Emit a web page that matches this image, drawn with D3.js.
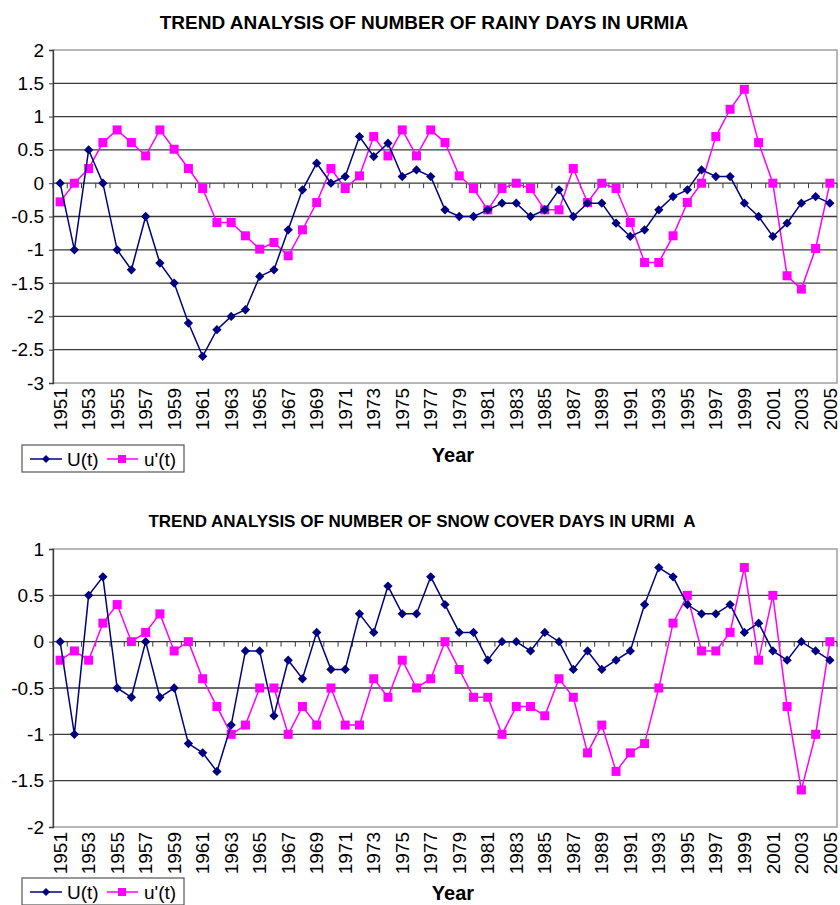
<!DOCTYPE html>
<html>
<head>
<meta charset="utf-8">
<title>Trend analysis - Urmia</title>
<style>
  body { margin: 0; background: #fff; }
  text { font-family: "Liberation Sans", Arial, sans-serif; white-space: pre; }
</style>
</head>
<body>
<main></main>
<script src="https://cdn.jsdelivr.net/npm/d3@7"></script>
<script>
// years on the category axis
var years = d3.range(1951, 2006);
// only every other year gets a label
var yearLabels = years.filter(function (d) { return (d - 1951) % 2 === 0; });

// rainy days: U(t) and u'(t)
var rainU = [0, -1, 0.5, 0, -1, -1.3, -0.5, -1.2, -1.5, -2.1,
  -2.6, -2.2, -2, -1.9, -1.4, -1.3, -0.7, -0.1, 0.3, 0,
  0.1, 0.7, 0.4, 0.6, 0.1, 0.2, 0.1, -0.4, -0.5, -0.5,
  -0.4, -0.3, -0.3, -0.5, -0.4, -0.1, -0.5, -0.3, -0.3, -0.6,
  -0.8, -0.7, -0.4, -0.2, -0.1, 0.2, 0.1, 0.1, -0.3, -0.5,
  -0.8, -0.6, -0.3, -0.2, -0.3];
var rainUp = [-0.28, 0, 0.22, 0.61, 0.8, 0.61, 0.41, 0.8, 0.51, 0.22,
  -0.08, -0.59, -0.59, -0.79, -0.99, -0.89, -1.09, -0.7, -0.29, 0.22,
  -0.08, 0.11, 0.7, 0.41, 0.8, 0.41, 0.8, 0.61, 0.11, -0.08,
  -0.4, -0.08, 0, -0.08, -0.4, -0.4, 0.22, -0.29, 0, -0.08,
  -0.59, -1.19, -1.19, -0.79, -0.29, 0, 0.7, 1.11, 1.41, 0.61,
  0, -1.39, -1.59, -0.98, 0];

// snow cover days: U(t) and u'(t)
var snowU = [0, -1, 0.5, 0.7, -0.5, -0.6, 0, -0.6, -0.5, -1.1,
  -1.2, -1.4, -0.9, -0.1, -0.1, -0.8, -0.2, -0.4, 0.1, -0.3,
  -0.3, 0.3, 0.1, 0.6, 0.3, 0.3, 0.7, 0.4, 0.1, 0.1,
  -0.2, 0, 0, -0.1, 0.1, 0, -0.3, -0.1, -0.3, -0.2,
  -0.1, 0.4, 0.8, 0.7, 0.4, 0.3, 0.3, 0.4, 0.1, 0.2,
  -0.1, -0.2, 0, -0.1, -0.2];
var snowUp = [-0.2, -0.1, -0.2, 0.2, 0.4, 0, 0.1, 0.3, -0.1, 0,
  -0.4, -0.7, -1, -0.9, -0.5, -0.5, -1, -0.7, -0.9, -0.5,
  -0.9, -0.9, -0.4, -0.6, -0.2, -0.5, -0.4, 0, -0.3, -0.6,
  -0.6, -1, -0.7, -0.7, -0.8, -0.4, -0.6, -1.2, -0.9, -1.4,
  -1.2, -1.1, -0.5, 0.2, 0.5, -0.1, -0.1, 0.1, 0.8, -0.2,
  0.5, -0.7, -1.6, -1, 0];

var rainTicks = [2, 1.5, 1, 0.5, 0, -0.5, -1, -1.5, -2, -2.5, -3];
var snowTicks = [1, 0.5, 0, -0.5, -1, -1.5, -2];

var width = 840, height = 905;
var navy = "#000080", pink = "#ff00ff";

var svg = d3.select("main").append("svg")
  .attr("width", width)
  .attr("height", height);

function panel(o) {
  var g = svg.append("g");

  var x = d3.scaleBand().domain(years).range([53, 837]).padding(0);
  var y = d3.scaleLinear().domain(o.domain).range([o.top, o.bottom]);
  var cx = function (d) { return x(d) + x.bandwidth() / 2; };

  // title
  g.append("text")
    .attr("x", o.titleX).attr("y", o.titleY)
    .attr("text-anchor", "middle")
    .attr("font-size", o.titleSize)
    .attr("font-weight", "bold")
    .attr("xml:space", "preserve")
    .text(o.title);

  // plot frame (light grey)
  g.append("rect")
    .attr("x", 53).attr("y", o.top)
    .attr("width", 784).attr("height", o.bottom - o.top)
    .attr("fill", "none").attr("stroke", "#a0a0a0").attr("stroke-width", 1.5);

  // gridlines
  g.selectAll(".grid").data(o.ticks.slice(1, -1)).enter().append("line")
    .attr("x1", 53).attr("x2", 837)
    .attr("y1", function (d) { return y(d); })
    .attr("y2", function (d) { return y(d); })
    .attr("stroke", "#3a3a3a").attr("stroke-width", 1.3);

  // y axis
  var ya = g.append("g").attr("transform", "translate(53,0)")
    .call(d3.axisLeft(y).tickValues(o.ticks).tickSize(4).tickPadding(5)
      .tickFormat(function (d) { return String(d); }));
  ya.select(".domain").attr("stroke", "#3a3a3a").attr("stroke-width", 1.3);
  ya.selectAll(".tick line").attr("stroke", "#3a3a3a");
  ya.selectAll("text").attr("font-size", 19).attr("fill", "#000")
    .attr("font-family", "Liberation Sans, Arial, sans-serif");

  // category tick marks on the zero line
  var bounds = years.map(function (d) { return x(d); }).concat([x.range()[1]]);
  g.selectAll(".ct").data(bounds).enter().append("line")
    .attr("x1", function (d) { return d; }).attr("x2", function (d) { return d; })
    .attr("y1", y(0)).attr("y2", y(0) + 5)
    .attr("stroke", "#3a3a3a").attr("stroke-width", 1);

  // year labels, rotated
  g.selectAll(".yl").data(yearLabels).enter().append("text")
    .attr("transform", function (d) {
      return "translate(" + cx(d) + "," + (o.bottom + 5) + ") rotate(-90)";
    })
    .attr("text-anchor", "end")
    .attr("dy", "0.35em")
    .attr("font-size", 19)
    .text(function (d) { return d; });

  // axis title
  g.append("text")
    .attr("x", 453).attr("y", o.yearY)
    .attr("text-anchor", "middle")
    .attr("font-size", 20).attr("font-weight", "bold")
    .text("Year");

  var line = d3.line()
    .x(function (d, i) { return cx(years[i]); })
    .y(function (d) { return y(d); });

  // u'(t) first, then U(t) on top
  g.append("path").datum(o.up)
    .attr("d", line).attr("fill", "none")
    .attr("stroke", pink).attr("stroke-width", 1.5);
  g.selectAll(".sq").data(o.up).enter().append("rect")
    .attr("x", function (d, i) { return cx(years[i]) - 4.5; })
    .attr("y", function (d) { return y(d) - 4.5; })
    .attr("width", 9).attr("height", 9)
    .attr("fill", pink);

  g.append("path").datum(o.U)
    .attr("d", line).attr("fill", "none")
    .attr("stroke", navy).attr("stroke-width", 1.5);
  g.selectAll(".dm").data(o.U).enter().append("path")
    .attr("d", d3.symbol().type(d3.symbolDiamond2).size(55))
    .attr("transform", function (d, i) {
      return "translate(" + cx(years[i]) + "," + y(d) + ")";
    })
    .attr("fill", navy);

  // legend
  var lg = g.append("g").attr("transform", "translate(22," + o.legendY + ")");
  lg.append("rect").attr("width", 162).attr("height", 27)
    .attr("fill", "#fff").attr("stroke", "#555").attr("stroke-width", 1.2);
  lg.append("line").attr("x1", 8).attr("x2", 40).attr("y1", 14).attr("y2", 14)
    .attr("stroke", navy).attr("stroke-width", 1.5);
  lg.append("path").attr("d", d3.symbol().type(d3.symbolDiamond2).size(40))
    .attr("transform", "translate(24,14)").attr("fill", navy);
  lg.append("text").attr("x", 45).attr("y", 14).attr("dy", "0.35em")
    .attr("font-size", 19).text("U(t)");
  lg.append("line").attr("x1", 85).attr("x2", 116).attr("y1", 14).attr("y2", 14)
    .attr("stroke", pink).attr("stroke-width", 1.5);
  lg.append("rect").attr("x", 96).attr("y", 10).attr("width", 8).attr("height", 8)
    .attr("fill", pink);
  lg.append("text").attr("x", 122).attr("y", 14).attr("dy", "0.35em")
    .attr("font-size", 19).text("u'(t)");
}

panel({
  title: "TREND ANALYSIS OF NUMBER OF RAINY DAYS IN URMIA",
  titleX: 424, titleY: 29, titleSize: 19,
  top: 50, bottom: 383, domain: [2, -3], ticks: rainTicks,
  U: rainU, up: rainUp, yearY: 462, legendY: 445
});

panel({
  title: "TREND ANALYSIS OF NUMBER OF SNOW COVER DAYS IN URMI  A",
  titleX: 422, titleY: 527, titleSize: 17,
  top: 549, bottom: 827, domain: [1, -2], ticks: snowTicks,
  U: snowU, up: snowUp, yearY: 900, legendY: 878
});
</script>
</body>
</html>
